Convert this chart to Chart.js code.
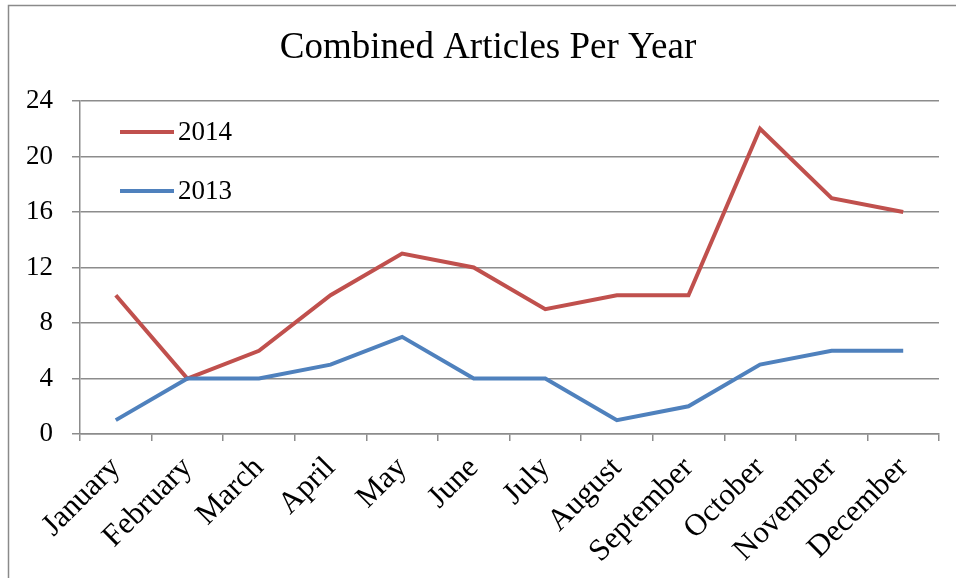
<!DOCTYPE html>
<html>
<head>
<meta charset="utf-8">
<script src="https://cdn.jsdelivr.net/npm/chart.js@4"></script>
<style>
  html, body { margin: 0; padding: 0; background: #fff; }
  #wrap { width: 956px; height: 578px; position: relative; }
</style>
</head>
<body>
<div id="wrap"><canvas id="chart" width="956" height="578"></canvas></div>
<script>
  // Chart data
  const months = ['January', 'February', 'March', 'April', 'May', 'June',
    'July', 'August', 'September', 'October', 'November', 'December'];
  const articles2014 = [10, 4, 6, 10, 13, 12, 9, 10, 10, 22, 17, 16];
  const articles2013 = [1, 4, 4, 5, 7, 4, 4, 1, 2, 5, 6, 6];
  const chartTitle = 'Combined Articles Per Year';

  const serif = '"Liberation Serif", "Times New Roman", serif';
  const gridGrey = '#8c8c8c';

  // Frame, title and in-plot legend
  const decorations = {
    id: 'decorations',
    beforeDraw(chart) {
      const c = chart.ctx;
      c.save();
      c.fillStyle = '#fff';
      c.fillRect(0, 0, chart.width, chart.height);
      c.strokeStyle = '#8a8a8a';
      c.lineWidth = 1.5;
      c.strokeRect(8.5, 5.5, 1200, 1200);
      c.restore();
    },
    afterDraw(chart) {
      const c = chart.ctx;
      c.save();
      c.fillStyle = '#000';
      c.font = '37px ' + serif;
      c.textAlign = 'center';
      c.textBaseline = 'middle';
      c.fillText(chartTitle, 488, 48);

      c.font = '27px ' + serif;
      c.textAlign = 'left';
      const order = [1, 0];
      order.forEach((di, i) => {
        const ds = chart.data.datasets[di];
        const y = 132 + i * 59;
        c.strokeStyle = ds.borderColor;
        c.lineWidth = 4;
        c.beginPath();
        c.moveTo(120, y);
        c.lineTo(174, y);
        c.stroke();
        c.fillStyle = '#000';
        c.fillText(ds.label, 178, y + 1);
      });
      c.restore();
    }
  };

  new Chart(document.getElementById('chart'), {
    type: 'line',
    data: {
      labels: months,
      datasets: [
        {
          label: '2013',
          data: articles2013,
          borderColor: '#4f81bd',
          borderWidth: 4,
          pointRadius: 0,
          tension: 0
        },
        {
          label: '2014',
          data: articles2014,
          borderColor: '#c0504d',
          borderWidth: 4,
          pointRadius: 0,
          tension: 0
        }
      ]
    },
    plugins: [decorations],
    options: {
      responsive: false,
      animation: false,
      layout: { padding: { top: 101, right: 17, left: 0, bottom: 0 } },
      plugins: {
        legend: { display: false },
        title: { display: false },
        tooltip: { enabled: false }
      },
      scales: {
        x: {
          offset: true,
          grid: {
            offset: true,
            drawOnChartArea: false,
            drawTicks: true,
            tickLength: 7,
            color: gridGrey,
            lineWidth: 1.5
          },
          border: { color: gridGrey, width: 1.5 },
          ticks: {
            color: '#000',
            font: { family: serif, size: 31 },
            minRotation: 45,
            maxRotation: 45,
            padding: 9,
            autoSkip: false
          },
          afterFit(scale) { scale.height = 578 - 434; }
        },
        y: {
          min: 0,
          max: 24,
          grid: {
            color: gridGrey,
            lineWidth: 1.5,
            drawTicks: true,
            tickLength: 8
          },
          border: { color: gridGrey, width: 1.5 },
          ticks: {
            stepSize: 4,
            color: '#000',
            font: { family: serif, size: 27 },
            padding: 19
          },
          afterFit(scale) { scale.width = 80; }
        }
      }
    }
  });
</script>
</body>
</html>
